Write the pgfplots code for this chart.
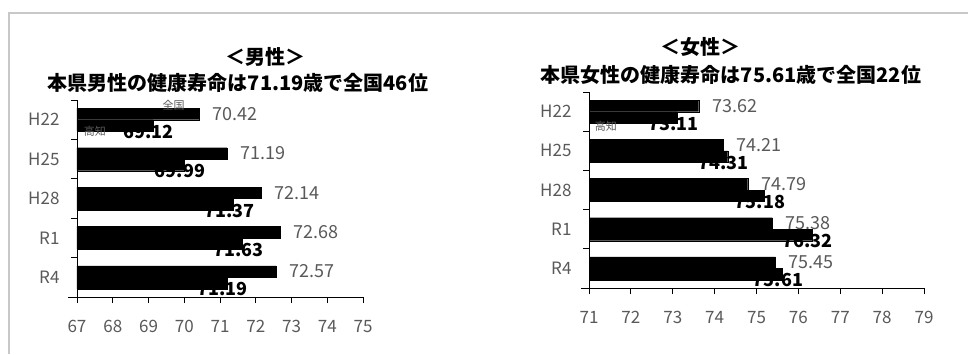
\documentclass[border=0pt]{standalone}
\usepackage{fontspec}
\setmainfont{Noto Sans CJK JP}
\usepackage{pgfplots}
\pgfplotsset{compat=1.18}
\definecolor{labgray}{HTML}{595959}
\definecolor{framegray}{HTML}{C8C8C8}
\pgfplotsset{
  hbars/.style={
    xbar, scale only axis, y dir=reverse,
    ymin=0.5, ymax=5.5,
    ytick={0.5,1.5,...,5.5}, yticklabels={},
    extra y ticks={1,2,3,4,5},
    extra y tick labels={H22,H25,H28,R1,R4},
    extra y tick style={major tick length=0pt},
    yticklabel style={font=\fontsize{17}{20}\selectfont, text=labgray, xshift=-14pt},
    axis x line*=bottom, axis y line*=left,
    axis line style={black, line width=0.8pt, -},
    tick align=outside, major tick length=6pt,
    tick style={black, line width=0.8pt},
    minor tick num=0,
    xtick distance=1,
    xticklabel style={font=\fontsize{17}{20}\selectfont, text=labgray, yshift=-14pt},
    /pgf/number format/assume math mode=true,
    bar width=11.5pt,
    point meta=x,
    clip=false,
  },
  natl/.style={fill=black, draw=black, line width=0.2pt, bar shift=5.75pt,
    nodes near coords={\pgfmathprintnumber[fixed,fixed zerofill,precision=2]{\pgfplotspointmeta}},
    nodes near coords style={text=labgray, anchor=west, xshift=10pt, font=\fontsize{18}{21}\selectfont}},
  pref/.style={fill=black, draw=black, line width=0.2pt, bar shift=-5.75pt,
    nodes near coords={\pgfmathprintnumber[fixed,fixed zerofill,precision=2]{\pgfplotspointmeta}},
    nodes near coords style={text=black, anchor=north, xshift=-4pt, yshift=4pt, font=\fontsize{18}{21}\selectfont\bfseries}},
}
\begin{document}
\begin{tikzpicture}
\path[use as bounding box] (0pt,0pt) rectangle (968pt,354pt);
\draw[framegray, line width=1.5pt] (9pt,0pt) -- (9pt,341pt) -- (968pt,341pt);

\node[font=\fontsize{20}{24}\selectfont\bfseries] at (265pt,297pt) {＜男性＞};
\node[font=\fontsize{20}{24}\selectfont\bfseries] at (238pt,271pt) {本県男性の健康寿命は71.19歳で全国46位};
\node[font=\fontsize{20}{24}\selectfont\bfseries] at (700pt,307pt) {＜女性＞};
\node[font=\fontsize{20}{24}\selectfont\bfseries] at (731pt,279pt) {本県女性の健康寿命は75.61歳で全国22位};

\begin{axis}[hbars, at={(77pt,57pt)}, anchor=south west, width=286pt, height=197pt,
  xmin=67, xmax=75, xtick={67,...,75}]
\addplot[natl] coordinates {(70.42,1) (71.19,2) (72.14,3) (72.68,4) (72.57,5)};
\addplot[pref] coordinates {(69.12,1) (69.99,2) (71.37,3) (71.63,4) (71.19,5)};
\node[font=\fontsize{11}{13}\selectfont, text=labgray] at (axis cs:69.7,0.64) {全国};
\node[font=\fontsize{11}{13}\selectfont, text=labgray] at (axis cs:67.5,1.3) {高知};
\draw[black, line width=0.8pt] (axis cs:67,5.5) -- ++(-9pt,0pt);
\end{axis}

\begin{axis}[hbars, at={(589pt,66pt)}, anchor=south west, width=335pt, height=196pt,
  xmin=71, xmax=79, xtick={71,...,79}]
\addplot[natl] coordinates {(73.62,1) (74.21,2) (74.79,3) (75.38,4) (75.45,5)};
\addplot[pref] coordinates {(73.11,1) (74.31,2) (75.18,3) (76.32,4) (75.61,5)};
\node[font=\fontsize{11}{13}\selectfont, text=labgray] at (axis cs:71.4,1.38) {高知};
\draw[black, line width=0.8pt] (axis cs:71,5.5) -- ++(-8pt,0pt);
\end{axis}
\end{tikzpicture}
\end{document}
